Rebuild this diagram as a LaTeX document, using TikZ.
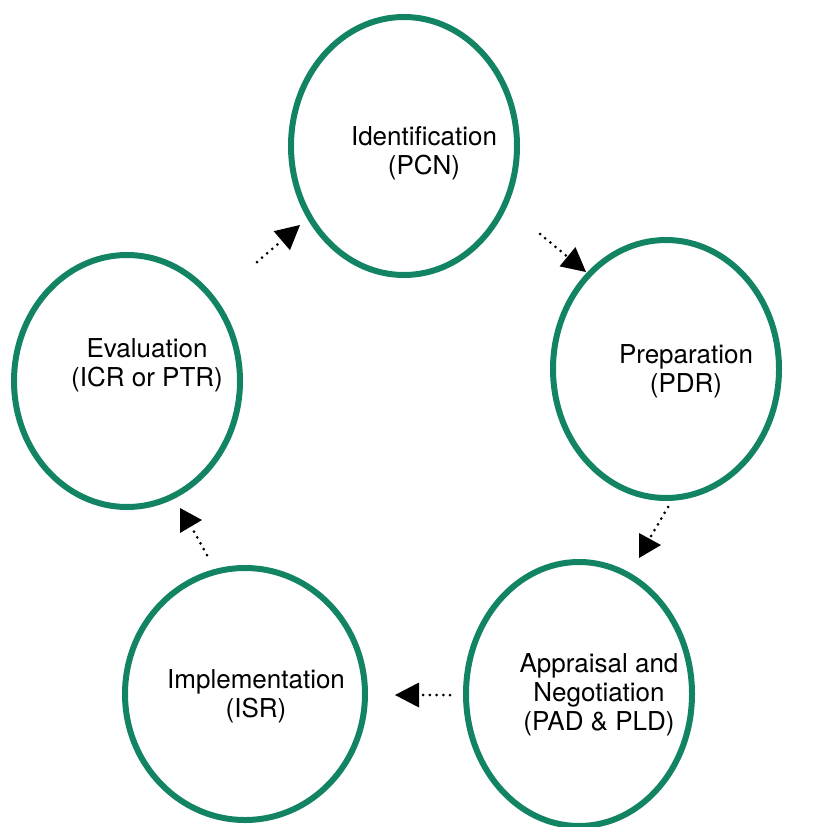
\documentclass[tikz,border=0pt]{standalone}
\usepackage{fontspec}
\setmainfont{TeX Gyre Heros}
\usetikzlibrary{shapes.geometric,arrows.meta}
\definecolor{ringgreen}{RGB}{18,132,100}
\begin{document}
\begin{tikzpicture}[x=1pt,y=-1pt,
  stage/.style={draw=ringgreen, line width=6pt, ellipse, inner sep=0pt,
                minimum width=226pt, minimum height=258pt},
  stagetext/.style={align=center, inner sep=0pt,
                    font=\fontsize{26}{29}\selectfont},
  flow/.style={line width=3pt, line cap=round, dash pattern=on 0pt off 6.7pt},
  flowhead/.style={-{Triangle[length=24pt,width=25pt,line width=0pt]}},
  headfill/.style={fill=black}]
\useasboundingbox (0,0) rectangle (814,827);

% the five project stages
\node[stage] (ident) at (404,146) {};
\node[stage] (prep)  at (666,369) {};
\node[stage, minimum height=264pt] (appr) at (579,694) {};
\node[stage, minimum width=240pt, minimum height=252pt] (impl) at (245,694) {};
\node[stage, minimum height=252pt] (eval)  at (127,381) {};

\node[stagetext] (identT) at (424,153) {Identification\\(PCN)};
\node[stagetext] (prepT)  at (686,371.5) {Preparation\\(PDR)};
\node[stagetext] (apprT)  at (599,694.5) {Appraisal and\\Negotiation\\(PAD \& PLD)};
\node[stagetext] (implT)  at (256,696.5) {Implementation\\(ISR)};
\node[stagetext] (evalT)  at (147,365.5) {Evaluation\\(ICR or PTR)};

% ends of the dotted connectors
\coordinate (e2i-s) at (257,262);  \coordinate (e2i-e) at (300,225);
\coordinate (i2p-s) at (540,234);  \coordinate (i2p-e) at (586,272);
\coordinate (p2a-s) at (668,507);  \coordinate (p2a-e) at (650,538);
\coordinate (a2m-s) at (450,695);  \coordinate (a2m-e) at (395,695);
\coordinate (m2e-s) at (207,555);  \coordinate (m2e-e) at (192,528);

\draw[flow, flowhead] (e2i-s) -- (e2i-e);
\draw[flow, flowhead] (i2p-s) -- (i2p-e);
\draw[flow, flowhead] (a2m-s) -- (a2m-e);

\draw[flow] (p2a-s) -- (p2a-e);
\fill[headfill] (639,533) -- (661,545) -- (639,558) -- cycle;

\draw[flow] (m2e-s) -- (m2e-e);
\fill[headfill] (180,508) -- (202,520) -- (180,533) -- cycle;
\end{tikzpicture}
\end{document}
